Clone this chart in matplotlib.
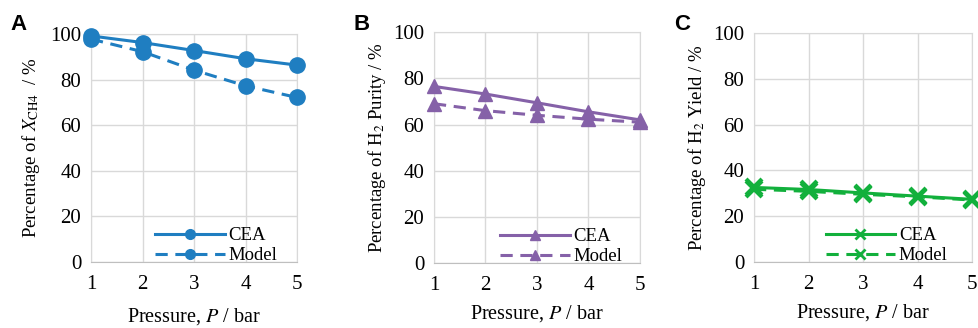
import matplotlib.pyplot as plt
from matplotlib.lines import Line2D

plt.rcParams['font.family'] = ['Liberation Serif', 'DejaVu Serif']
plt.rcParams['mathtext.fontset'] = 'stix'

pressure = [1, 2, 3, 4, 5]

conv_cea = [99.2, 96.3, 92.8, 89.2, 86.4]
conv_model = [97.8, 92.3, 84.2, 77.3, 72.2]

purity_cea = [76.5, 73.2, 69.4, 65.5, 62.0]
purity_model = [69.0, 66.0, 64.0, 62.3, 61.0]

yield_cea = [32.6, 31.7, 30.2, 28.8, 27.4]
yield_model = [31.8, 30.9, 29.6, 28.5, 27.1]

panels = [
    ('A', conv_cea, conv_model, '#1F7EC1', 'o', 11, 7,
     'Percentage of $X_{\\mathrm{CH4}}$  / %', [0.093, 0.201, 0.2104, 0.695], 9, 0.905, 6),
    ('B', purity_cea, purity_model, '#8561A8', '^', 10, 7,
     'Percentage of H$_2$ Purity / %', [0.4433, 0.198, 0.2104, 0.704], 6, 0.915, 4),
    ('C', yield_cea, yield_model, '#12B03C', 'x', 11, 7,
     'Percentage of H$_2$ Yield / %', [0.7702, 0.201, 0.2227, 0.698], 6, 0.888, 4),
]

fig = plt.figure(figsize=(9.79, 3.28), dpi=100)

for letter, cea, model, col, mk, ms, lms, ylab, pos, xpad, legx, ypad in panels:
    ax = fig.add_axes(pos)
    mew = 3 if mk == 'x' else 1
    ax.plot(pressure, cea, color=col, lw=2.2, marker=mk, ms=ms, mew=mew, clip_on=False, zorder=3)
    ax.plot(pressure, model, color=col, lw=2.2, ls=(0, (4, 2.5)), marker=mk, ms=ms, mew=mew,
            clip_on=False, zorder=3)
    ax.set_xlim(1, 5)
    ax.set_ylim(0, 100)
    ax.set_xticks(pressure)
    ax.set_yticks([0, 20, 40, 60, 80, 100])
    ax.grid(True, color='#D9D9D9', lw=1)
    ax.tick_params(length=0, labelsize=15)
    ax.tick_params(axis='x', pad=9)
    ax.tick_params(axis='y', pad=7)
    for s in ax.spines.values():
        s.set_color('#D9D9D9')
    ax.spines['bottom'].set_color('#BFBFBF')
    ax.set_ylabel(ylab, fontsize=13.5, labelpad=ypad)
    ax.set_xlabel('Pressure, $P$ / bar', fontsize=14.5, labelpad=xpad)
    handles = [
        Line2D([], [], color=col, lw=2.2, marker=mk, ms=lms, mew=2 if mk == 'x' else 1),
        Line2D([], [], color=col, lw=2.2, ls=(0, (4, 2.5)), marker=mk, ms=lms, mew=2 if mk == 'x' else 1),
    ]
    ax.legend(handles, ['CEA', 'Model'], loc='lower right', bbox_to_anchor=(legx, -0.01),
              frameon=False, fontsize=13.5, handlelength=3.7, handletextpad=0.2,
              labelspacing=0.15, borderaxespad=0, borderpad=0)
    fig.text(pos[0] - 0.082, 0.925, letter, fontsize=16, fontweight='bold',
             family='Liberation Sans', ha='left', va='center')

fig.savefig('out.png', dpi=100)
